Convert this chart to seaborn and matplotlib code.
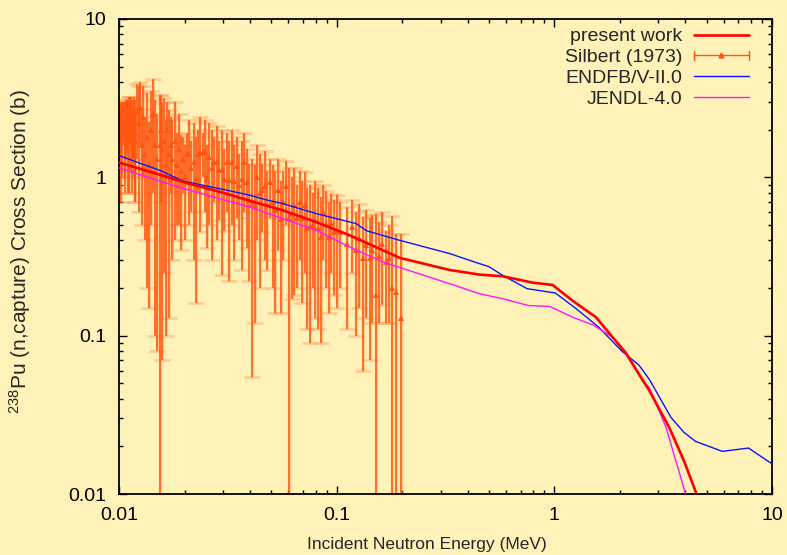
import numpy as np
import pandas as pd
import matplotlib
matplotlib.use("Agg")
import matplotlib.pyplot as plt
import seaborn as sns
from matplotlib.lines import Line2D
from matplotlib.legend_handler import HandlerBase
from matplotlib.ticker import FixedLocator, FixedFormatter, NullFormatter

# ---------------- data ----------------
# present work (red)
present_e = [0.01, 0.015, 0.02, 0.03, 0.04, 0.0567, 0.081, 0.115, 0.164, 0.195, 0.33,
             0.453, 0.58, 0.797, 0.982, 1.214, 1.55, 1.85, 2.13, 2.73, 3.37, 3.94, 4.5, 4.7]
present_xs = [1.24, 1.05, 0.93, 0.80, 0.71, 0.618, 0.52, 0.43, 0.345, 0.31, 0.26,
              0.243, 0.237, 0.216, 0.209, 0.166, 0.131, 0.098, 0.0775, 0.045, 0.0263, 0.0162, 0.0100, 0.0085]

# ENDF/B-V (blue)
endf_e = [0.01, 0.0154, 0.0197, 0.0312, 0.04, 0.0476, 0.0567, 0.081, 0.123, 0.137, 0.195, 0.33,
          0.453, 0.50, 0.58, 0.75, 1.01, 1.26, 1.6, 2.04, 2.45, 2.73, 3.43, 3.94, 4.45, 5.9, 7.8, 10.0]
endf_xs = [1.37, 1.107, 0.947, 0.83, 0.77, 0.72, 0.682, 0.589, 0.51, 0.46, 0.40, 0.33,
           0.285, 0.273, 0.24, 0.198, 0.186, 0.148, 0.113, 0.080, 0.065, 0.053, 0.0305, 0.0245, 0.0215, 0.0186, 0.0195, 0.0155]

# JENDL-4.0 (magenta)
jendl_e = [0.01, 0.0197, 0.0399, 0.0567, 0.081, 0.115, 0.164, 0.33, 0.453, 0.58, 0.76, 0.95,
           1.21, 1.5, 1.85, 2.13, 2.3, 2.54, 2.73, 3.26, 4.0, 4.2]
jendl_xs = [1.145, 0.85, 0.649, 0.548, 0.462, 0.362, 0.291, 0.213, 0.184, 0.171, 0.155, 0.153,
            0.131, 0.117, 0.098, 0.079, 0.066, 0.052, 0.047, 0.0263, 0.0101, 0.0085]

# Silbert (1973) measured points with errors
silbert_e = [0.0100, 0.0101, 0.0102, 0.0103, 0.0104, 0.0105, 0.0106, 0.0107, 0.0108, 0.0109,
             0.0110, 0.0111, 0.0112, 0.0113, 0.0114, 0.0115, 0.0116, 0.0117, 0.0118, 0.0119,
             0.0121, 0.0123, 0.0125, 0.0127, 0.0129, 0.0131, 0.0134, 0.0137, 0.0140, 0.0143,
             0.0146, 0.0149, 0.0154, 0.0156, 0.0158, 0.0161, 0.0164, 0.0167, 0.0170, 0.0173,
             0.0176, 0.0180, 0.0184, 0.0188, 0.0192, 0.0196, 0.0200,
             0.0205, 0.0210, 0.0215, 0.0220, 0.0225, 0.0230, 0.0236, 0.0242, 0.0248, 0.0254,
             0.0260, 0.0267, 0.0274, 0.0281, 0.0288, 0.0296, 0.0304, 0.0312, 0.0320, 0.0329,
             0.0338, 0.0347, 0.0356, 0.0366, 0.0376, 0.0386, 0.0397, 0.0410, 0.0420, 0.0432,
             0.0444, 0.0456, 0.0468, 0.0481, 0.0494,
             0.0508, 0.0522, 0.0537, 0.0553, 0.0568, 0.0585, 0.0604, 0.0621, 0.0638, 0.0656,
             0.0675, 0.0694, 0.0714, 0.0734, 0.0755, 0.0776, 0.0798, 0.0821, 0.0844, 0.0868,
             0.0893, 0.0918, 0.0944, 0.0971,
             0.1000, 0.104, 0.112, 0.117, 0.123, 0.127, 0.132, 0.137, 0.142, 0.146,
             0.151, 0.157, 0.162, 0.169, 0.174, 0.180, 0.188, 0.198]
silbert_xs = [2.1, 2.2, 1.8, 2.0, 2.3, 2.4, 2.0, 1.9, 2.2, 2.3,
              1.9, 2.0, 2.4, 2.5, 2.1, 1.8, 2.2, 2.1, 1.7, 1.9,
              2.6, 2.2, 2.8, 1.6, 2.4, 1.4, 1.8, 1.2, 2.0, 2.5,
              1.6, 1.3, 1.6, 2.0, 1.5, 1.7, 1.2, 2.0, 1.4, 1.6,
              1.3, 1.7, 1.2, 1.5, 1.1, 1.3, 1.0,
              1.4, 1.4, 1.15, 1.25, 0.98, 1.4, 1.42, 1.45, 1.45, 0.98,
              1.35, 1.15, 1.25, 1.25, 1.12, 1.12, 0.98, 1.25, 0.96, 1.25,
              0.95, 1.18, 0.9, 0.98, 1.25, 0.93, 0.72, 0.68, 0.66, 1.0,
              0.8, 0.83, 0.88, 0.68, 0.93,
              0.7, 0.62, 0.83, 0.545, 0.7, 0.88, 0.55, 0.585, 0.665, 0.55,
              0.7, 0.555, 0.665, 0.48, 0.495, 0.5, 0.54, 0.48, 0.42, 0.6,
              0.51, 0.42, 0.515, 0.45,
              0.46, 0.45, 0.38, 0.485, 0.35, 0.415, 0.31, 0.375, 0.31, 0.35,
              0.18, 0.32, 0.378, 0.29, 0.31, 0.20, 0.19, 0.13]
silbert_err = [0.9, 0.8, 1.1, 1.0, 0.7, 0.6, 1.0, 1.1, 0.9, 0.8,
               1.1, 1.2, 0.8, 0.7, 1.0, 1.0, 0.9, 1.1, 1.0, 1.2,
               1.3, 1.6, 1.2, 1.1, 1.4, 1.0, 1.6, 1.05, 1.5, 1.7,
               1.5, 1.22, 1.7, 1.3, 1.43, 1.45, 1.1, 1.0, 1.27, 0.8,
               1.0, 1.3, 0.7, 1.0, 0.75, 0.5, 0.6,
               0.5, 0.9, 0.55, 0.95, 0.82, 0.6, 0.97, 0.45, 0.85, 0.62,
               0.85, 0.85, 0.55, 0.85, 0.58, 0.88, 0.52, 0.65, 0.74, 0.75,
               0.65, 0.63, 0.5, 0.72, 0.65, 0.57, 0.5, 0.625, 0.54, 0.6,
               0.6, 0.38, 0.58, 0.42, 0.38,
               0.5, 0.48, 0.48, 0.405, 0.4, 0.38, 0.6, 0.415, 0.485, 0.35,
               0.4, 0.395, 0.415, 0.37, 0.405, 0.3, 0.41, 0.37, 0.33, 0.3,
               0.31, 0.28, 0.265, 0.27,
               0.31, 0.25, 0.27, 0.235, 0.25, 0.265, 0.25, 0.245, 0.24, 0.23,
               0.41, 0.2, 0.222, 0.17, 0.19, 0.37, 0.25, 0.31]

tick_vals = [0.01, 0.1, 1, 10]
tick_labels = ["0.01", "0.1", "1", "10"]

series_labels = ["present work", "Silbert (1973)", "ENDFB/V-II.0", "JENDL-4.0"]

# ---------------- style ----------------
BG = "#fef2b8"
sns.set_theme(style="ticks")
plt.rcParams["font.family"] = ["Liberation Sans", "DejaVu Sans"]
plt.rcParams["mathtext.fontset"] = "custom"
plt.rcParams["mathtext.rm"] = "Liberation Sans"
plt.rcParams["mathtext.it"] = "Liberation Sans:italic"

fig = plt.figure(figsize=(7.87, 5.55), dpi=100, facecolor=BG)
ax = fig.add_axes([0.1512, 0.1099, 0.8298, 0.8559], facecolor=BG)
ax.set_xscale("log")
ax.set_yscale("log")

C_RED = "#ff0000"
C_SIL = "#ff5510"
C_SIL_HALO = "#ffa060"
C_BLUE = "#0a14ff"
C_MAG = "#ff14ff"

# soft halo under the error bars, then the bars themselves
ax.errorbar(silbert_e, silbert_xs, yerr=silbert_err, fmt="none", ecolor=C_SIL_HALO,
            elinewidth=2.3, capsize=6, capthick=2.0, alpha=0.45, zorder=1)
ax.errorbar(silbert_e, silbert_xs, yerr=silbert_err, fmt="^", color=C_SIL, ecolor=C_SIL,
            elinewidth=1.1, capsize=5.5, capthick=1.1, ms=4.5, mew=0, zorder=2)

df_p = pd.DataFrame({"E": present_e, "xs": present_xs})
df_b = pd.DataFrame({"E": endf_e, "xs": endf_xs})
df_m = pd.DataFrame({"E": jendl_e, "xs": jendl_xs})
sns.lineplot(data=df_b, x="E", y="xs", ax=ax, color=C_BLUE, lw=1.0, zorder=3)
sns.lineplot(data=df_m, x="E", y="xs", ax=ax, color=C_MAG, lw=1.0, zorder=3)
sns.lineplot(data=df_p, x="E", y="xs", ax=ax, color=C_RED, lw=1.9, zorder=4)

ax.set_xlim(0.01, 10)
ax.set_ylim(0.01, 10)

for axis in (ax.xaxis, ax.yaxis):
    axis.set_major_locator(FixedLocator(tick_vals))
    axis.set_major_formatter(FixedFormatter(tick_labels))
    axis.set_minor_formatter(NullFormatter())

ax.tick_params(which="both", direction="in", top=True, right=True, colors="black",
               labelsize=14, width=1.0)
ax.tick_params(which="major", length=5.5)
ax.tick_params(axis="x", which="major", pad=9)
ax.tick_params(axis="y", which="major", pad=9)
ax.tick_params(which="minor", length=3)
for s in ax.spines.values():
    s.set_linewidth(1.3)
    s.set_color("black")

ax.set_xlabel("Incident Neutron Energy (MeV)", fontsize=12.5, va="center")
ax.xaxis.set_label_coords(0.471, -0.107)
ax.set_ylabel(r"$^{238}$Pu (n,capture) Cross Section (b)", fontsize=15, va="center")
ax.yaxis.set_label_coords(-0.152, 0.51)


class HErrHandler(HandlerBase):
    def create_artists(self, legend, orig_handle, xdescent, ydescent, width, height,
                       fontsize, trans):
        y = height / 2 - ydescent
        x0, x1 = -xdescent, -xdescent + width
        h = 3.5
        arts = [
            Line2D([x0, x1], [y, y], color=C_SIL, lw=1.0),
            Line2D([x0, x0], [y - h, y + h], color=C_SIL, lw=1.0),
            Line2D([x1, x1], [y - h, y + h], color=C_SIL, lw=1.0),
            Line2D([(x0 + x1) / 2], [y], color=C_SIL, marker="^", ms=3.5, ls="none"),
        ]
        for a in arts:
            a.set_transform(trans)
        return arts


class SilProxy:
    pass


handles = [Line2D([], [], color=C_RED, lw=1.9), SilProxy(),
           Line2D([], [], color=C_BLUE, lw=1.0), Line2D([], [], color=C_MAG, lw=1.0)]
leg = ax.legend(handles, series_labels, loc="upper right", bbox_to_anchor=(0.985, 1.01),
                frameon=False, markerfirst=False, fontsize=14, handlelength=2.8,
                handletextpad=0.6, labelspacing=0.16, borderaxespad=0.3,
                handler_map={SilProxy: HErrHandler()})

fig.savefig("out.png", dpi=100, facecolor=BG)
